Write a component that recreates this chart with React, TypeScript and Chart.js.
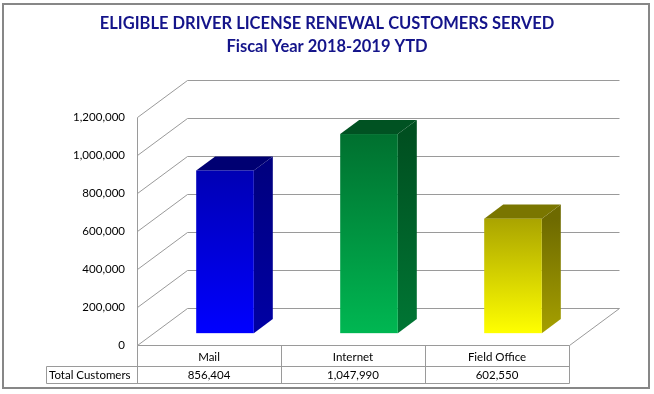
import React, { useEffect, useRef } from 'react';
import { Chart, registerables } from 'chart.js';

Chart.register(...registerables);

const titleLines = ['ELIGIBLE DRIVER LICENSE RENEWAL CUSTOMERS SERVED', 'Fiscal Year 2018-2019 YTD'];
const categories = ['Mail', 'Internet', 'Field Office'];
const seriesName = 'Total Customers';
const values = [856404, 1047990, 602550];
const yTicks = [0, 200000, 400000, 600000, 800000, 1000000, 1200000];

// colours per bar: [front top, front bottom, side top, side bottom, top face]
const barColors = [
  ['#0000b4', '#0000ff', '#000080', '#0000a4', '#000072'],
  ['#00702f', '#00b752', '#004f20', '#007634', '#005222'],
  ['#aaa400', '#ffff00', '#6e6a00', '#a6a000', '#7a7600'],
];

const FONT = 'Lato, "Liberation Sans", sans-serif';
const DX = 50;
const DY = -37;
const F0 = 0.32;
const F1 = 0.7;
const GRID = '#9a9a9a';

const fmt = (v: number) => v.toLocaleString('en-US');

const threeD = {
  id: 'threeD',
  beforeDraw(chart: any) {
    const { ctx } = chart;
    ctx.save();
    ctx.fillStyle = '#ffffff';
    ctx.fillRect(0, 0, chart.width, chart.height);
    ctx.strokeStyle = '#878787';
    ctx.lineWidth = 2;
    ctx.strokeRect(3, 4, 646, 384);
    ctx.restore();
  },
  beforeDatasetsDraw(chart: any) {
    const { ctx, chartArea: a, scales } = chart;
    const y = scales.y;
    const p = (v: number) => Math.round(v) + 0.5;
    ctx.save();
    ctx.strokeStyle = GRID;
    ctx.lineWidth = 1;
    for (const t of yTicks) {
      const yf = y.getPixelForValue(t);
      ctx.beginPath();
      ctx.moveTo(p(a.left), p(yf));
      ctx.lineTo(p(a.left + DX), p(yf + DY));
      ctx.lineTo(p(a.right + DX), p(yf + DY));
      ctx.stroke();
    }
    const y0 = y.getPixelForValue(0);
    const yMax = y.getPixelForValue(yTicks[yTicks.length - 1]);
    ctx.beginPath();
    ctx.moveTo(p(a.left), p(y0));
    ctx.lineTo(p(a.left), p(yMax));
    ctx.stroke();
    ctx.beginPath();
    ctx.moveTo(p(a.right), p(y0));
    ctx.lineTo(p(a.right + DX), p(y0 + DY));
    ctx.stroke();
    ctx.restore();
  },
  afterDatasetsDraw(chart: any) {
    const { ctx } = chart;
    const meta = chart.getDatasetMeta(0);
    const ox = DX * F0;
    const oy = DY * F0;
    const bdx = DX * (F1 - F0);
    const bdy = DY * (F1 - F0);
    ctx.save();
    meta.data.forEach((bar: any, i: number) => {
      const { x, y, base, width } = bar.getProps(['x', 'y', 'base', 'width'], true);
      const L = x - width / 2 + ox;
      const R = x + width / 2 + ox;
      const T = y + oy;
      const B = base + oy;
      const c = barColors[i];
      const sg = ctx.createLinearGradient(0, T, 0, B);
      sg.addColorStop(0, c[2]);
      sg.addColorStop(1, c[3]);
      ctx.fillStyle = sg;
      ctx.beginPath();
      ctx.moveTo(R, B);
      ctx.lineTo(R, T);
      ctx.lineTo(R + bdx, T + bdy);
      ctx.lineTo(R + bdx, B + bdy);
      ctx.closePath();
      ctx.fill();
      ctx.fillStyle = c[4];
      ctx.beginPath();
      ctx.moveTo(L, T);
      ctx.lineTo(R, T);
      ctx.lineTo(R + bdx, T + bdy);
      ctx.lineTo(L + bdx, T + bdy);
      ctx.closePath();
      ctx.fill();
      const fg = ctx.createLinearGradient(0, T, 0, B);
      fg.addColorStop(0, c[0]);
      fg.addColorStop(1, c[1]);
      ctx.fillStyle = fg;
      ctx.fillRect(L, T, R - L, B - T);
    });
    ctx.restore();
  },
  afterDraw(chart: any) {
    const { ctx, chartArea: a, scales } = chart;
    const xs = scales.x;
    const p = (v: number) => Math.round(v) + 0.5;
    const row1 = a.bottom;
    const row2 = row1 + 21;
    const row3 = row2 + 17;
    const tableLeft = 46;
    const step = xs.getPixelForValue(1) - xs.getPixelForValue(0);
    ctx.save();
    ctx.strokeStyle = GRID;
    ctx.lineWidth = 1;
    const hl = (yy: number, x1: number, x2: number) => {
      ctx.beginPath();
      ctx.moveTo(p(x1), p(yy));
      ctx.lineTo(p(x2), p(yy));
      ctx.stroke();
    };
    const vl = (xx: number, y1: number, y2: number) => {
      ctx.beginPath();
      ctx.moveTo(p(xx), p(y1));
      ctx.lineTo(p(xx), p(y2));
      ctx.stroke();
    };
    hl(row1, a.left, a.right);
    hl(row2, tableLeft, a.right);
    hl(row3, tableLeft, a.right);
    vl(tableLeft, row2, row3);
    for (let i = 0; i <= categories.length; i++) {
      const xx = xs.getPixelForValue(0) - step / 2 + i * step;
      vl(xx, row1, row3);
    }
    ctx.fillStyle = '#000000';
    ctx.font = '11.5px ' + FONT;
    ctx.textBaseline = 'middle';
    const ym = (row2 + row3) / 2 + 0.5;
    ctx.textAlign = 'left';
    ctx.fillText(seriesName, tableLeft + 3, ym);
    ctx.textAlign = 'center';
    values.forEach((v, i) => {
      ctx.fillText(fmt(v), xs.getPixelForValue(i), ym);
    });
    ctx.restore();
  },
};

export default function App() {
  const ref = useRef<HTMLCanvasElement | null>(null);
  useEffect(() => {
    if (!ref.current) return;
    const chart = new Chart(ref.current, {
      type: 'bar',
      data: {
        labels: categories,
        datasets: [
          {
            label: seriesName,
            data: values,
            backgroundColor: 'rgba(0,0,0,0)',
            borderWidth: 0,
            categoryPercentage: 1,
            barPercentage: 0.4,
          },
        ],
      },
      options: {
        responsive: false,
        animation: false,
        devicePixelRatio: 1,
        layout: { padding: 0 },
        plugins: {
          legend: { display: false },
          tooltip: { enabled: false },
          title: {
            display: true,
            text: titleLines,
            color: '#14148a',
            font: { family: FONT, size: 16.5, weight: 'bold', lineHeight: 1.394 },
            padding: { top: 12, bottom: 59 },
          },
        },
        scales: {
          x: {
            type: 'category',
            grid: { display: false, drawTicks: false },
            border: { display: false },
            ticks: { color: '#000000', font: { family: FONT, size: 11.5 }, padding: 5, maxRotation: 0 },
            afterFit: (s: any) => {
              s.height = 49;
            },
          },
          y: {
            type: 'linear',
            min: yTicks[0],
            max: yTicks[yTicks.length - 1],
            grid: { display: false, drawTicks: false },
            border: { display: false },
            ticks: {
              color: '#000000',
              font: { family: FONT, size: 11.5 },
              padding: 12,
              callback: (v: any) => fmt(Number(v)),
            },
            afterBuildTicks: (s: any) => {
              s.ticks = yTicks.map((v) => ({ value: v }));
            },
            afterFit: (s: any) => {
              s.width = 137;
            },
          },
          yRight: {
            type: 'linear',
            position: 'right',
            min: yTicks[0],
            max: yTicks[yTicks.length - 1],
            grid: { display: false, drawTicks: false },
            border: { display: false },
            ticks: { display: false },
            afterFit: (s: any) => {
              s.width = 85;
            },
          },
        },
      },
      plugins: [threeD],
    });
    return () => chart.destroy();
  }, []);
  return (
    <div style={{ position: 'absolute', left: 0, top: 0, width: 654, height: 394, background: '#fff' }}>
      <canvas ref={ref} width={654} height={394} style={{ display: 'block' }} />
    </div>
  );
}
